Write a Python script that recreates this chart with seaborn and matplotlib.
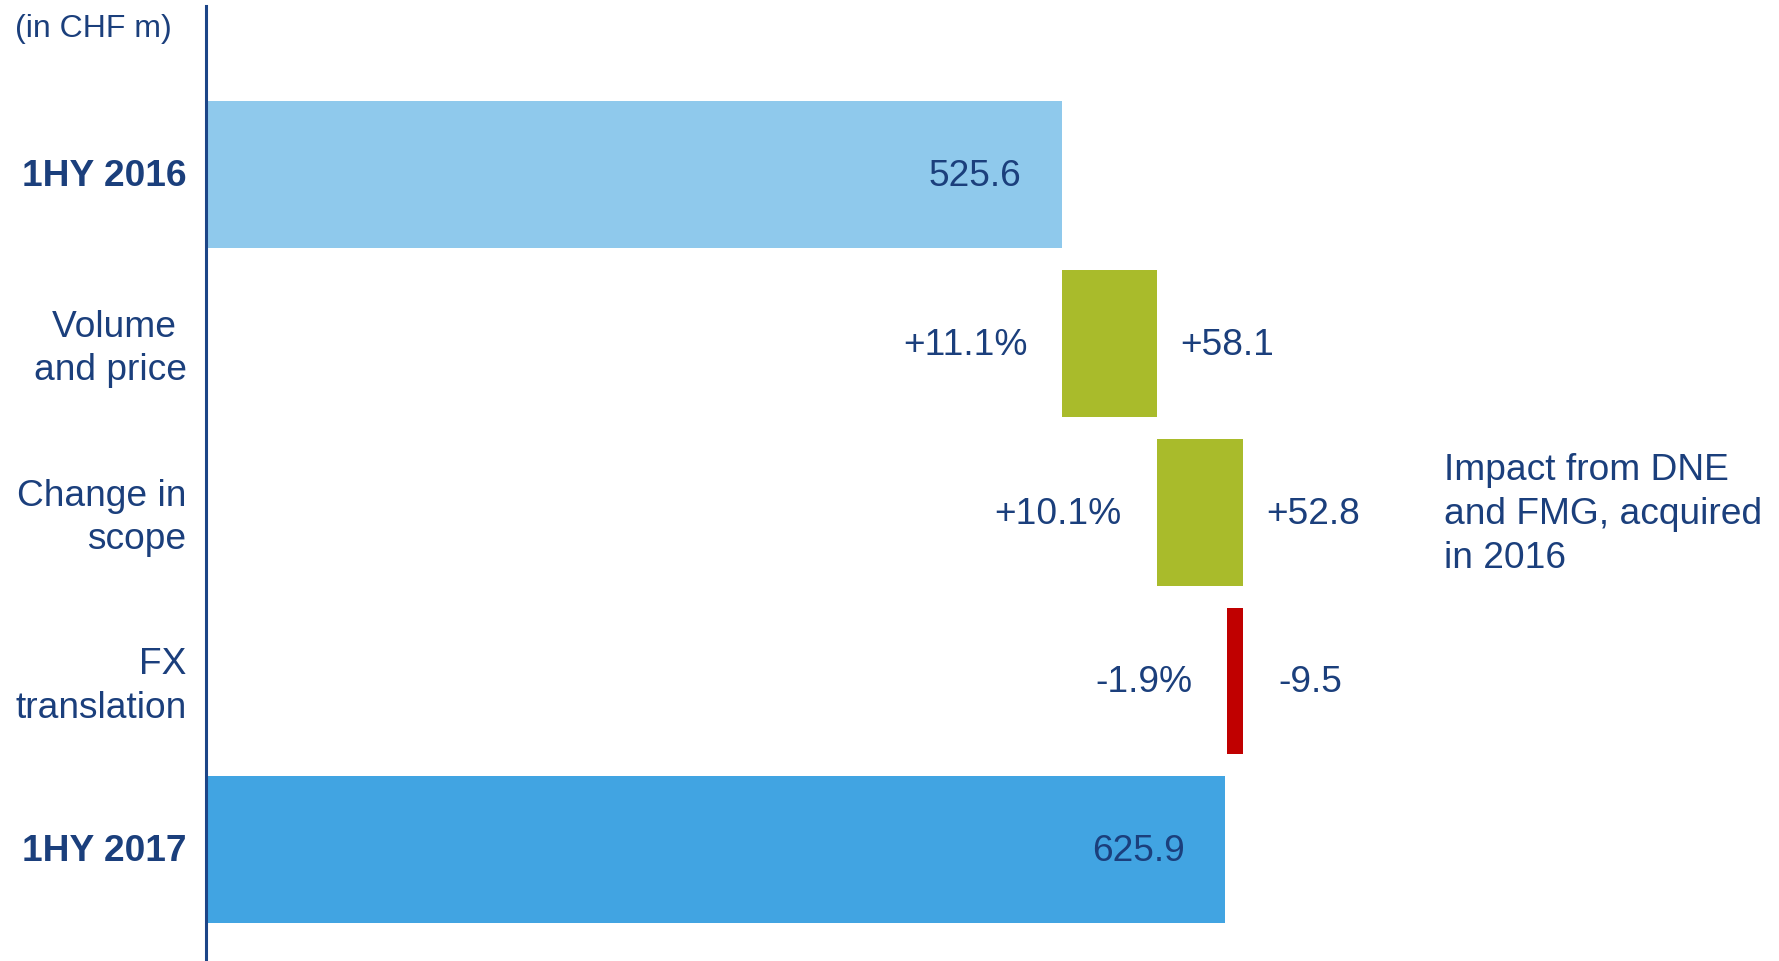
import matplotlib
matplotlib.use("Agg")
import matplotlib.pyplot as plt
import matplotlib.transforms as mtransforms
import seaborn as sns
import pandas as pd

# ---- data ----
categories = ["1HY 2016", "Volume \nand price", "Change in\nscope", "FX\ntranslation", "1HY 2017"]
kinds = ["total", "delta", "delta", "delta", "total"]
start_total = 525.6
deltas = [58.1, 52.8, -9.5]
end_total = 625.9
value_labels = ["525.6", "+58.1", "+52.8", "-9.5", "625.9"]
pct_labels = ["", "+11.1%", "+10.1%", "-1.9%", ""]
unit_label = "(in CHF m)"
note_text = "Impact from DNE\nand FMG, acquired\nin 2016"

# colours
c_total1 = "#8FC9EC"
c_total2 = "#41A4E2"
c_pos = "#A9BB2B"
c_neg = "#C00000"
c_text = "#1B3F7C"
c_axis = "#1C4587"

# ---- derived waterfall geometry ----
lefts, rights, colors = [], [], []
lefts.append(0.0); rights.append(start_total); colors.append(c_total1)
cum = start_total
for d in deltas:
    new = cum + d
    lefts.append(min(cum, new)); rights.append(max(cum, new))
    colors.append(c_pos if d >= 0 else c_neg)
    cum = new
lefts.append(0.0); rights.append(end_total); colors.append(c_total2)

df = pd.DataFrame({"cat": categories, "left": lefts, "right": rights})

sns.set_style("white")
plt.rcParams["font.family"] = ["Liberation Sans", "DejaVu Sans"]

W, H = 1779, 961
fig = plt.figure(figsize=(W / 100, H / 100), dpi=100)
ax = fig.add_axes([206 / W, 0, 1 - 206 / W, 1 - 6 / H])

sns.barplot(data=df, y="cat", x="right", hue="cat", palette=colors, order=categories,
            hue_order=categories, width=0.87, legend=False, saturation=1,
            linewidth=0, ax=ax)
sns.barplot(data=df, y="cat", x="left", color="white", order=categories,
            width=0.87, saturation=1, linewidth=0, ax=ax)

ax.set_xlim(0, (W - 206) / 1.6287)
ax.set_ylim(4.66, -1.0)
ax.set_xlabel("")
ax.set_ylabel("")
ax.set_xticks([])
for s in ["top", "right", "bottom"]:
    ax.spines[s].set_visible(False)
ax.spines["left"].set_color(c_axis)
ax.spines["left"].set_linewidth(2.2)
ax.spines["left"].set_zorder(5)

FS = 26.7
ax.set_yticks(range(len(categories)))
ax.set_yticklabels(categories, fontsize=FS, color=c_text, linespacing=1.3)
ax.tick_params(axis="y", length=0, pad=14)
shift = mtransforms.ScaledTranslation(0, 1.8 / 72, fig.dpi_scale_trans)
for i, t in enumerate(ax.get_yticklabels()):
    t.set_transform(t.get_transform() + shift)
    if kinds[i] == "total":
        t.set_fontweight("bold")

# labels
for i in range(len(categories)):
    if kinds[i] == "total":
        ax.annotate(value_labels[i], (rights[i], i), xytext=(-29, -1.5),
                    textcoords="offset points", ha="right", va="center",
                    fontsize=FS, color=c_text)
    else:
        ax.annotate(pct_labels[i], (lefts[i], i), xytext=(-25, -1.5),
                    textcoords="offset points", ha="right", va="center",
                    fontsize=FS, color=c_text)
        pad = 17 if deltas[i - 1] >= 0 else 26
        ax.annotate(value_labels[i], (rights[i], i), xytext=(pad, -1.5),
                    textcoords="offset points", ha="left", va="center",
                    fontsize=FS, color=c_text)

ax.annotate(note_text, (760, 2), xytext=(0, -1.5), textcoords="offset points",
            ha="left", va="center", fontsize=FS, color=c_text, linespacing=1.33)

fig.text(15 / W, 1 - 29 / H, unit_label, ha="left", va="center",
         fontsize=23, color=c_text)

fig.savefig("out.png", dpi=100, facecolor="white")
